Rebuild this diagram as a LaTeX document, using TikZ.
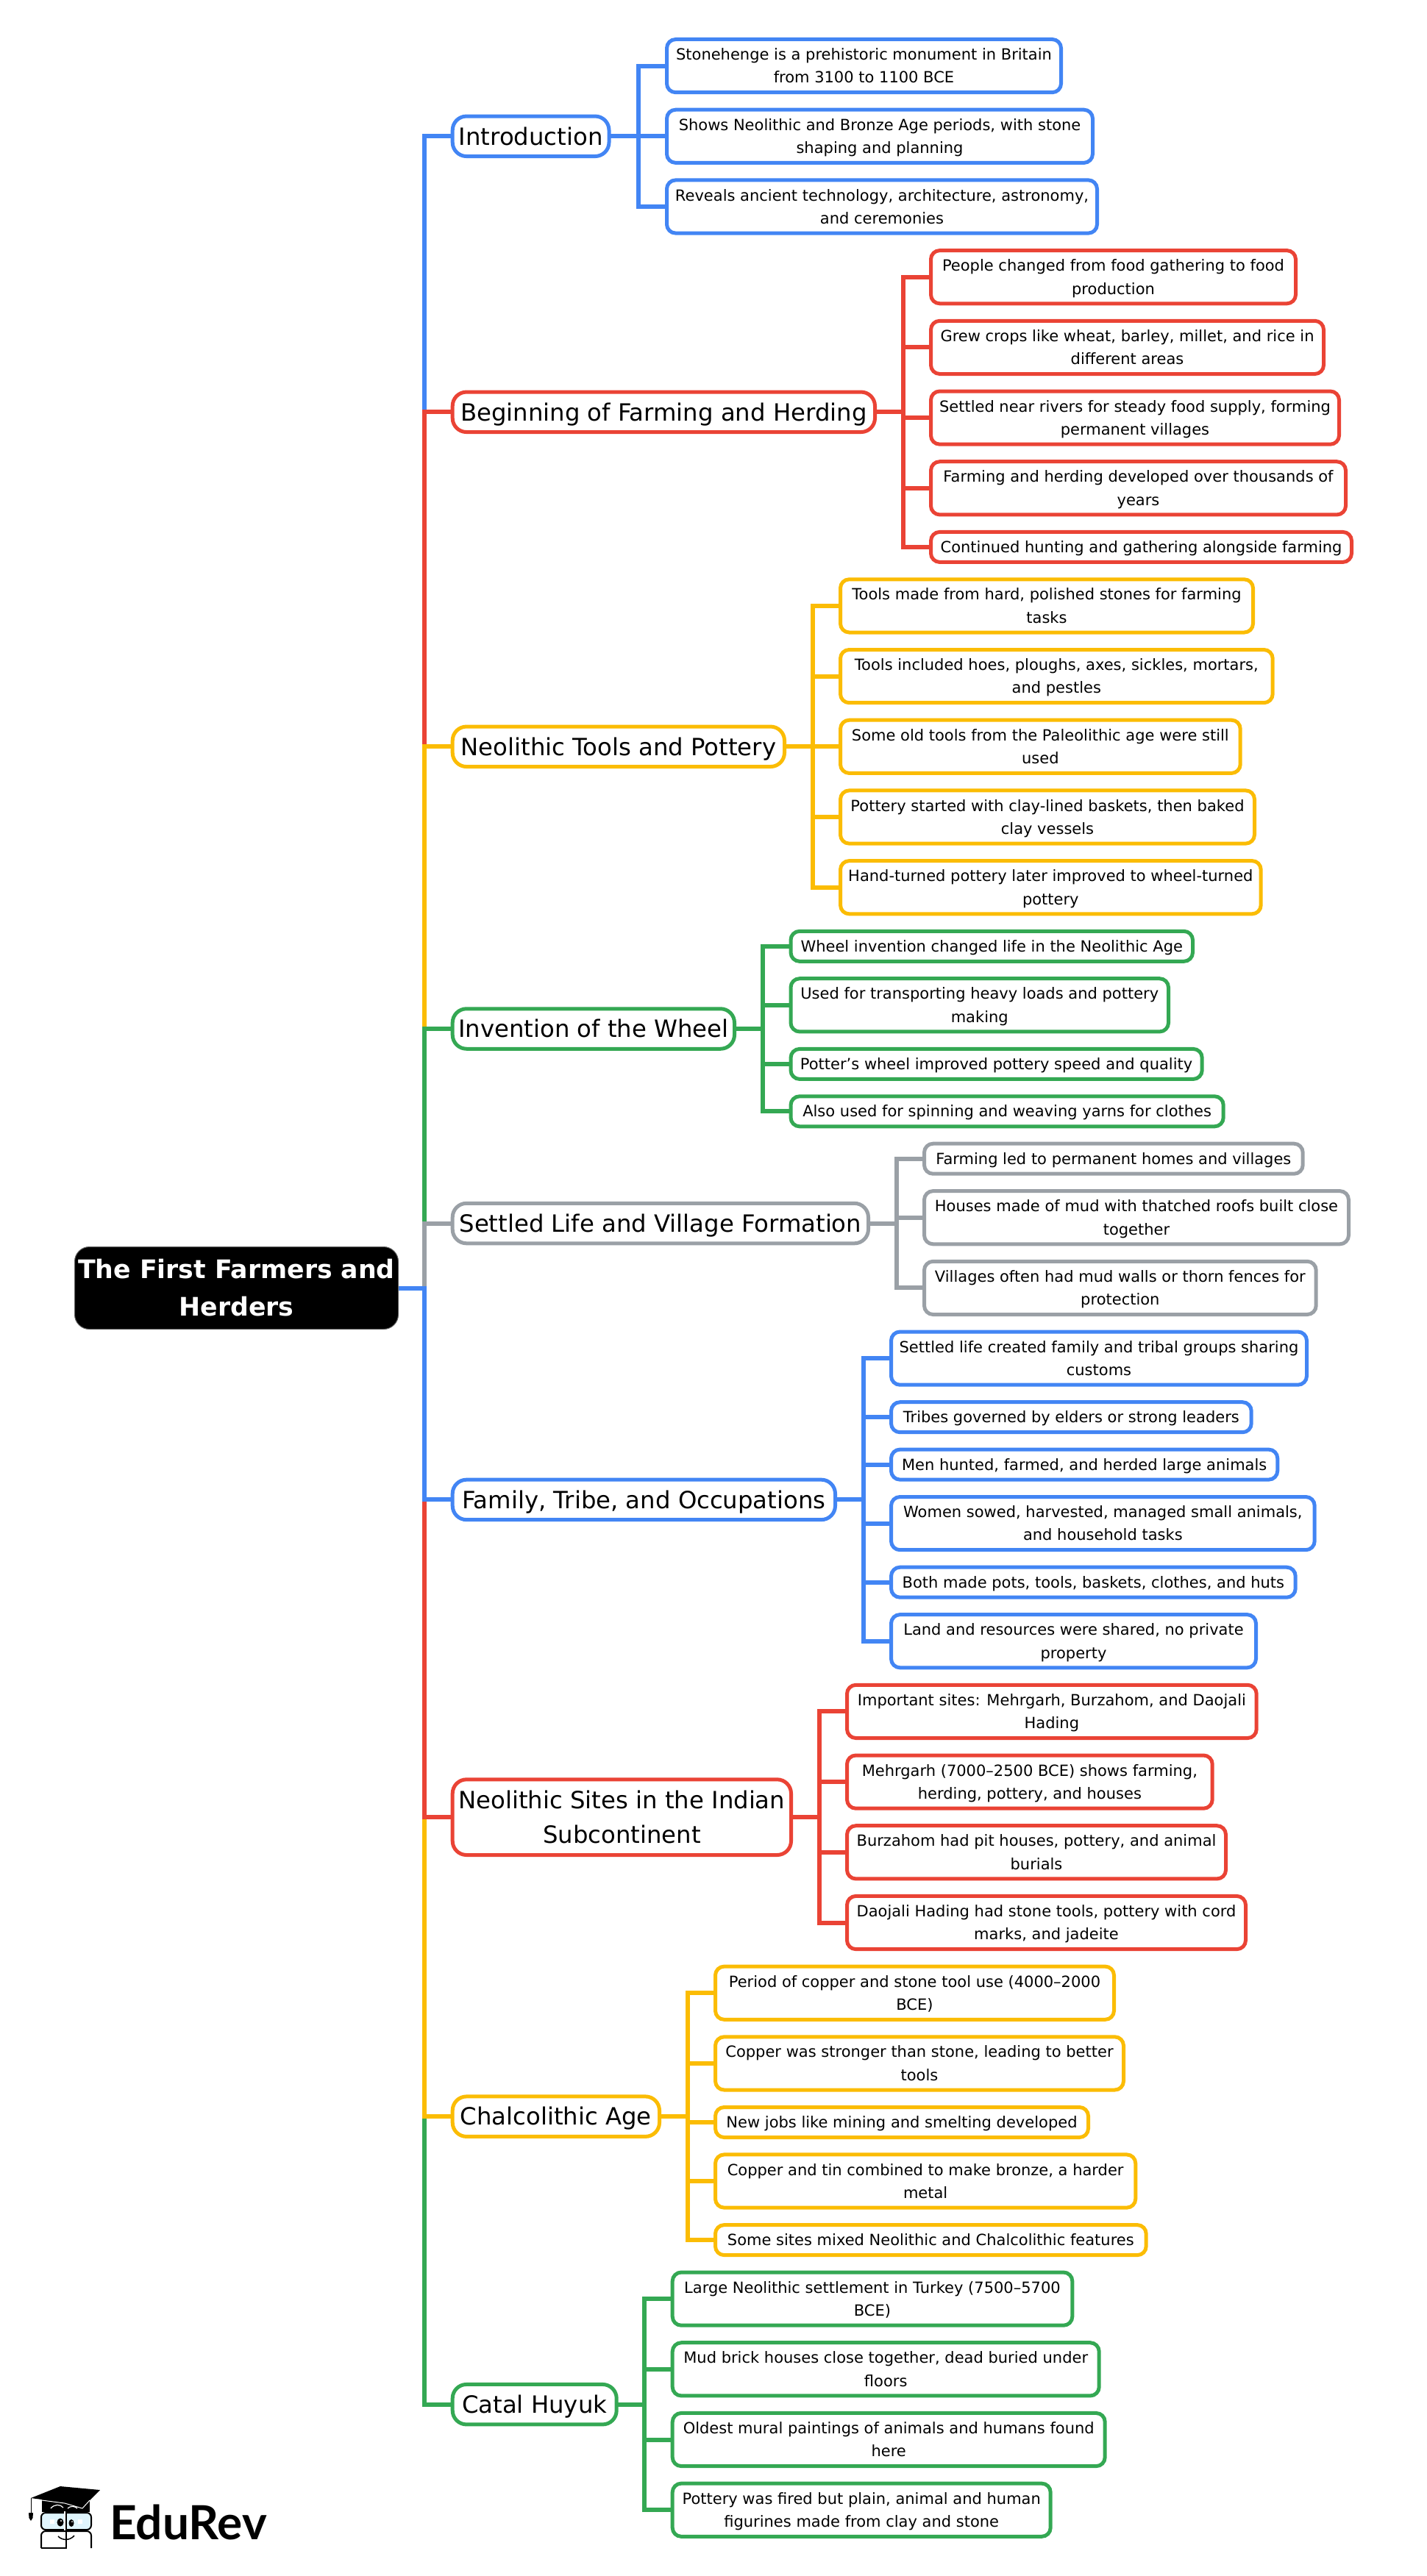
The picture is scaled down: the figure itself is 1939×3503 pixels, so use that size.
\documentclass[tikz,border=0pt]{standalone}
\usepackage{fontspec}
\setmainfont{DejaVu Sans}
\newfontfamily\logofont{Lato}
\usetikzlibrary{backgrounds}
\definecolor{cblue}{HTML}{4285F4}
\definecolor{cred}{HTML}{EA4335}
\definecolor{cyellow}{HTML}{FBBC04}
\definecolor{cgreen}{HTML}{34A853}
\definecolor{cgray}{HTML}{9AA0A6}
\tikzset{
  basebox/.style={rectangle,fill=white,line width=5pt,inner sep=0pt,outer sep=0pt,align=center,text=black},
  leafbox/.style={basebox,draw=#1,rounded corners=12pt,font=\fontsize{21}{31.3}\selectfont},
  branchbox/.style={basebox,draw=#1,rounded corners=19pt,font=\fontsize{32.3}{47}\selectfont},
  rootbox/.style={rectangle,fill=black,draw=black!60,line width=1pt,rounded corners=20pt,inner sep=0pt,outer sep=0pt,align=center,text=white,font=\fontsize{34.7}{51}\selectfont\bfseries},
  link/.style={draw=#1,line width=6pt}
}
% centring struts: the block of text is centred on cap top / last baseline
\newcommand\txt[1]{\rule{0pt}{1.03em}#1\rule[-0.3em]{0pt}{0.3em}}
% style, name, x1, x2, y1, y2, text
\newcommand\boxat[7]{\node[#1,minimum width={(#4)-(#3)-5},minimum height={(#6)-(#5)-5}] (#2) at ({((#3)+(#4))/2},{((#5)+(#6))/2}) {\txt{#7}};}
% two-line leaf: colour, name, x1, x2, top, text
\newcommand\leafA[6]{\boxat{leafbox=#1}{#2}{#3}{#4}{#5}{#5+77.2}{#6}}
% one-line leaf
\newcommand\leafB[6]{\boxat{leafbox=#1}{#2}{#3}{#4}{#5}{#5+46}{#6}}
% branch: colour, name, x2, centre y, text
\newcommand\branchnode[5]{\boxat{branchbox=#1}{#2}{612.7}{#3}{#4-29.75}{#4+29.75}{#5}}
\newcommand\trunklink[2]{\draw[link=#1] (root.east) -- (root.east -| trunk) |- (#2.west);}
\begin{document}
\begin{tikzpicture}[x=1pt,y=-1pt]
\useasboundingbox (0,0) rectangle (1939,3503);
\coordinate (trunk) at (577,0);
\node[rootbox,minimum width=440,minimum height=112] (root) at (321.5,1751.5) {The First Farmers and\\Herders};

% Introduction
\branchnode{cblue}{b1}{830.5}{185.3}{Introduction}
\leafA{cblue}{l11}{904}{1445}{51}{Stonehenge is a prehistoric monument in Britain\\from 3100 to 1100 BCE}
\leafA{cblue}{l12}{904}{1488}{146.7}{Shows Neolithic and Bronze Age periods, with stone\\shaping and planning}
\leafA{cblue}{l13}{904}{1494}{242.4}{Reveals ancient technology, architecture, astronomy,\\and ceremonies}
\coordinate (h1) at (867.5,0);
% Beginning
\branchnode{cred}{b2}{1192}{560.3}{Beginning of Farming and Herding}
\leafA{cred}{l21}{1263}{1764}{338.1}{People changed from food gathering to food\\production}
\leafA{cred}{l22}{1263}{1802}{433.8}{Grew crops like wheat, barley, millet, and rice in\\different areas}
\leafA{cred}{l23}{1263}{1823}{529.5}{Settled near rivers for steady food supply, forming\\permanent villages}
\leafA{cred}{l24}{1263}{1832}{625.2}{Farming and herding developed over thousands of\\years}
\leafB{cred}{l25}{1263}{1840}{720.9}{Continued hunting and gathering alongside farming}
\coordinate (h2) at (1227.5,0);
% Tools
\branchnode{cyellow}{b3}{1069}{1015.3}{Neolithic Tools and Pottery}
\leafA{cyellow}{l31}{1140}{1706}{785.3}{Tools made from hard, polished stones for farming\\tasks}
\leafA{cyellow}{l32}{1140}{1732.7}{881}{Tools included hoes, ploughs, axes, sickles, mortars,\\and pestles}
\leafA{cyellow}{l33}{1140}{1688.7}{976.7}{Some old tools from the Paleolithic age were still\\used}
\leafA{cyellow}{l34}{1140}{1708}{1072.4}{Pottery started with clay-lined baskets, then baked\\clay vessels}
\leafA{cyellow}{l35}{1140}{1716.7}{1168.1}{Hand-turned pottery later improved to wheel-turned\\pottery}
\coordinate (h3) at (1104.5,0);
% Wheel
\branchnode{cgreen}{b4}{1001}{1399}{Invention of the Wheel}
\leafB{cgreen}{l41}{1072.5}{1624}{1263.8}{Wheel invention changed life in the Neolithic Age}
\leafA{cgreen}{l42}{1072.5}{1591}{1328.2}{Used for transporting heavy loads and pottery\\making}
\leafB{cgreen}{l43}{1072.5}{1636.7}{1423.9}{Potter’s wheel improved pottery speed and quality}
\leafB{cgreen}{l44}{1072.5}{1665.7}{1488.3}{Also used for spinning and weaving yarns for clothes}
\coordinate (h4) at (1037,0);
% Settled
\branchnode{cgray}{b5}{1183}{1663.55}{Settled Life and Village Formation}
\leafB{cgray}{l51}{1254}{1773.7}{1552.7}{Farming led to permanent homes and villages}
\leafA{cgray}{l52}{1254}{1836}{1617.1}{Houses made of mud with thatched roofs built close\\together}
\leafA{cgray}{l53}{1254}{1791.7}{1712.8}{Villages often had mud walls or thorn fences for\\protection}
\coordinate (h5) at (1218.5,0);
% Family
\branchnode{cblue}{b6}{1138}{2039.4}{Family, Tribe, and Occupations}
\leafA{cblue}{l61}{1209}{1779}{1808.5}{Settled life created family and tribal groups sharing\\customs}
\leafB{cblue}{l62}{1209}{1703.7}{1904.2}{Tribes governed by elders or strong leaders}
\leafB{cblue}{l63}{1209}{1739.3}{1968.6}{Men hunted, farmed, and herded large animals}
\leafA{cblue}{l64}{1209}{1789.7}{2033}{Women sowed, harvested, managed small animals,\\and household tasks}
\leafB{cblue}{l65}{1209}{1763.7}{2128.7}{Both made pots, tools, baskets, clothes, and huts}
\leafA{cblue}{l66}{1209}{1710}{2193.1}{Land and resources were shared, no private\\property}
\coordinate (h6) at (1173.5,0);
% Sites
\boxat{branchbox=cred}{b7}{612.7}{1078}{2417.3}{2525}{Neolithic Sites in the Indian\\Subcontinent}
\leafA{cred}{l71}{1149}{1710.7}{2288.8}{Important sites: Mehrgarh, Burzahom, and Daojali\\Hading}
\leafA{cred}{l72}{1149}{1650.7}{2384.5}{Mehrgarh (7000–2500 BCE) shows farming,\\herding, pottery, and houses}
\leafA{cred}{l73}{1149}{1669}{2480.2}{Burzahom had pit houses, pottery, and animal\\burials}
\leafA{cred}{l74}{1149}{1696}{2575.9}{Daojali Hading had stone tools, pottery with cord\\marks, and jadeite}
\coordinate (h7) at (1113.5,0);
% Chalcolithic
\branchnode{cyellow}{b8}{899}{2878.15}{Chalcolithic Age}
\leafA{cyellow}{l81}{970}{1517}{2671.6}{Period of copper and stone tool use (4000–2000\\BCE)}
\leafA{cyellow}{l82}{970}{1530}{2767.3}{Copper was stronger than stone, leading to better\\tools}
\leafB{cyellow}{l83}{970}{1482}{2863}{New jobs like mining and smelting developed}
\leafA{cyellow}{l84}{970}{1546.3}{2927.4}{Copper and tin combined to make bronze, a harder\\metal}
\leafB{cyellow}{l85}{970}{1560.7}{3023.1}{Some sites mixed Neolithic and Chalcolithic features}
\coordinate (h8) at (934.5,0);
% Catal
\branchnode{cgreen}{b9}{840.7}{3269.65}{Catal Huyuk}
\leafA{cgreen}{l91}{911.7}{1460.3}{3087.5}{Large Neolithic settlement in Turkey (7500–5700\\BCE)}
\leafA{cgreen}{l92}{911.7}{1496.7}{3183.2}{Mud brick houses close together, dead buried under\\floors}
\leafA{cgreen}{l93}{911.7}{1504.7}{3278.9}{Oldest mural paintings of animals and humans found\\here}
\leafA{cgreen}{l94}{911.7}{1430.7}{3374.6}{Pottery was fired but plain, animal and human\\figurines made from clay and stone}
\coordinate (h9) at (876.2,0);

\begin{scope}[on background layer]
\trunklink{cblue}{b1}
\trunklink{cred}{b2}
\trunklink{cyellow}{b3}
\trunklink{cgreen}{b4}
\trunklink{cgray}{b5}
\trunklink{cgreen}{b9}
\trunklink{cyellow}{b8}
\trunklink{cred}{b7}
\trunklink{cblue}{b6}
\foreach \c/\b/\ls in {cblue/1/{1,2,3},cred/2/{1,2,3,4,5},cyellow/3/{1,2,3,4,5},cgreen/4/{1,2,3,4},cgray/5/{1,2,3},cblue/6/{1,2,3,4,5,6},cred/7/{1,2,3,4},cyellow/8/{1,2,3,4,5},cgreen/9/{1,2,3,4}}{
  \draw[link=\c] (b\b.east) -- (b\b.east -| h\b);
  \foreach \l in \ls {\draw[link=\c] (b\b.east -| h\b) |- (l\b\l.west);}
}
\end{scope}

% Logo
\fill[black] (57,3399) -- (57,3416) -- (122,3416) -- (122,3399) -- cycle;
\draw[white,line width=1.2pt] (69,3411) .. controls (74,3405) and (82,3405) .. (86,3410);
\draw[white,line width=1.2pt] (92,3411) .. controls (96,3407) and (102,3408) .. (105,3411);
\fill[black] (42,3397) -- (82,3381) -- (136,3386) -- (112,3410) -- (88,3403) -- cycle;
\draw[white,line width=1pt] (57,3400) -- (88,3404) -- (112,3411) -- (122,3400);
\draw[black,line width=1pt] (42,3397) -- (42,3418);
\fill[black] (39,3417) -- (45,3417) -- (44.5,3424) -- (42,3428) -- (39.5,3424) -- cycle;
\draw[black,line width=2pt,fill=cyan!12,rounded corners=6pt] (56,3417) rectangle (124,3440);
\draw[black,line width=2pt,rounded corners=6pt] (56,3465) -- (56,3442) -- (124,3442) -- (124,3465);
\draw[black,line width=2pt] (56,3465) -- (90,3465);
\draw[white,line width=2.5pt] (88,3415) -- (88,3441);
\draw[black,line width=2pt] (90,3415) -- (90,3466);
\fill[black] (82,3430) ellipse [x radius=4.5,y radius=5.5];
\fill[black] (97,3431) ellipse [x radius=3.5,y radius=5];
\fill[white] (83,3428) circle (1.2) (98,3429) circle (1);
\fill[white] (68,3426) rectangle (74,3432);
\fill[white] (106,3426) rectangle (112,3432);
\draw[black,line width=1.5pt] (79,3449) .. controls (85,3455) and (95,3455) .. (101,3448);
\node[anchor=base west,inner sep=0pt,font=\fontsize{64}{64}\selectfont\logofont\bfseries] (logo) at (149,3453) {EduRev};
\end{tikzpicture}
\end{document}
